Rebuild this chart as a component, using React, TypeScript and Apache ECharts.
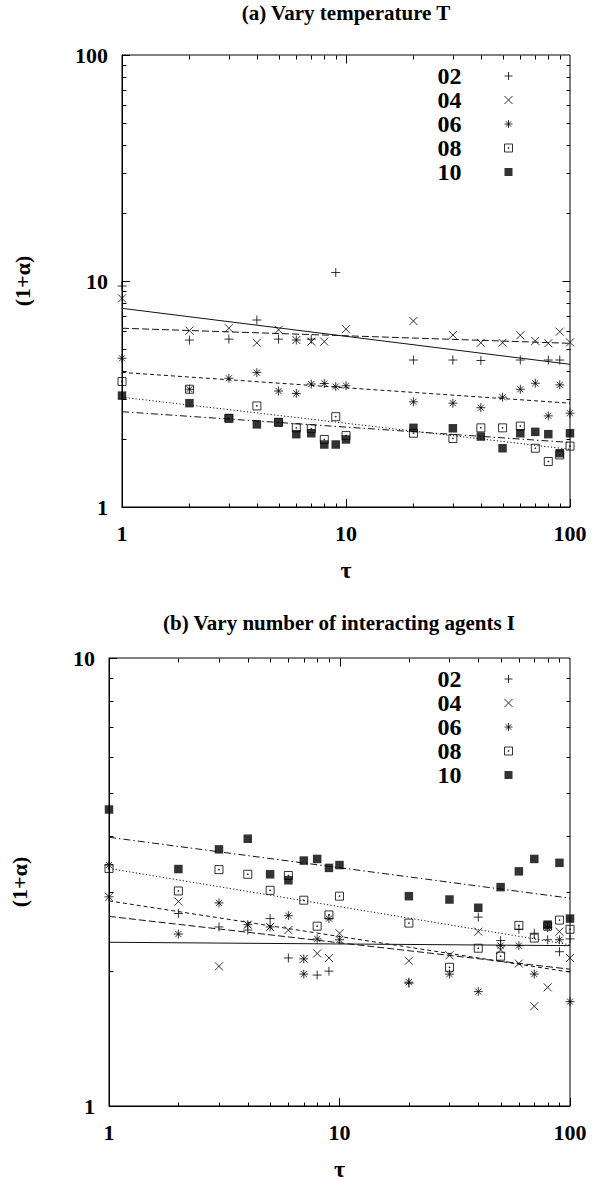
import React, { useEffect, useRef } from 'react';
import * as echarts from 'echarts';

// ---------- data ----------
const TAU = [1, 2, 3, 4, 5, 6, 7, 8, 9, 10, 20, 30, 40, 50, 60, 70, 80, 90, 100];
const NAMES = ['02', '04', '06', '08', '10'];

// panel (a): vary temperature T
const A02 = [9.5, 5.48, 5.53, 6.72, 5.53, 5.48, 5.53, null, 10.9, null, 4.47, 4.47, 4.45, null, 4.47, null, 4.47, 4.47, null];
const A04 = [8.38, 6.03, 6.18, 5.33, 6.08, 5.48, 5.39, 5.39, null, 6.12, 6.65, 5.77, 5.33, 5.33, 5.75, 5.43, 5.3, 5.97, 5.35];
const A06 = [4.55, 3.32, 3.71, 3.93, 3.26, 3.18, 3.5, 3.52, 3.41, 3.44, 2.92, 2.88, 2.75, 3.06, 3.32, 3.53, 2.53, 3.47, 2.6];
const A08 = [3.59, 3.32, 2.47, 2.8, 2.37, 2.24, 2.22, 1.99, 2.51, 2.07, 2.12, 2.01, 2.24, 2.24, 2.28, 1.82, 1.59, 1.7, 1.86];
const A10 = [3.11, 2.88, 2.47, 2.32, 2.37, 2.1, 2.12, 1.89, 1.89, 1.99, 2.24, 2.23, 2.05, 1.82, 2.12, 2.15, 2.1, 1.73, 2.12];
// fitted power laws (value at tau=1, value at tau=100)
const FIT_A02 = [7.57, 4.28];
const FIT_A04 = [6.18, 5.3];
const FIT_A06 = [3.94, 2.88];
const FIT_A08 = [3.06, 1.8];
const FIT_A10 = [2.64, 1.93];

// panel (b): vary number of interacting agents I
const B02 = [2.93, 2.69, 2.51, 2.47, 2.62, 2.14, 2.13, 1.96, 2.0, null, 1.88, null, 2.64, 2.34, 2.48, 2.43, 2.35, 2.21, 2.36];
const B04 = [2.93, 2.86, 2.05, 2.54, 2.51, 2.47, 2.13, 2.19, 2.14, 2.43, 2.11, 2.17, 2.45, 2.23, 2.08, 1.67, 1.84, 2.45, 2.14];
const B06 = [3.45, 2.42, 2.84, 2.54, 2.51, 2.66, 1.97, 2.36, 2.62, 2.35, 1.89, 1.97, 1.8, 2.28, 2.28, 1.97, 2.5, 2.35, 1.71];
const B08 = [3.39, 3.02, 3.37, 3.29, 3.03, 3.27, 2.88, 2.52, 2.67, 2.94, 2.56, 2.04, 2.25, 2.16, 2.53, 2.37, 2.52, 2.6, 2.48];
const B10 = [4.59, 3.38, 3.74, 3.95, 3.29, 3.19, 3.53, 3.56, 3.4, 3.45, 2.94, 2.89, 2.77, 3.08, 3.34, 3.56, 2.54, 3.49, 2.62];
const FIT_B02 = [2.32, 2.28];
const FIT_B04 = [2.65, 2.02];
const FIT_B06 = [2.87, 1.99];
const FIT_B08 = [3.39, 2.29];
const FIT_B10 = [3.98, 2.91];

// axis ranges & minor tick values
const X_RANGE = [1, 100];
const Y_RANGE_A = [1, 100];
const Y_RANGE_B = [1, 10];
const MINOR_2DEC = [2, 3, 4, 5, 6, 7, 8, 9, 20, 30, 40, 50, 60, 70, 80, 90];
const MINOR_1DEC = [2, 3, 4, 5, 6, 7, 8, 9];

const FONT = "'Liberation Serif', 'DejaVu Serif', serif";

const SYM: Record<string, { symbol: string; size: number; filled: boolean }> = {
  '02': { symbol: 'path://M0,5L10,5M5,0L5,10', size: 9, filled: false },
  '04': { symbol: 'path://M0,0L10,10M10,0L0,10', size: 8, filled: false },
  '06': { symbol: 'path://M0,5L10,5M5,0L5,10M1.6,1.6L8.4,8.4M8.4,1.6L1.6,8.4', size: 9, filled: false },
  '08': { symbol: 'path://M0,0L10,0L10,10L0,10ZM4.5,4.5L5.5,4.5L5.5,5.5L4.5,5.5Z', size: 8, filled: false },
  '10': { symbol: 'rect', size: 8.5, filled: true },
};
const DASH: Record<string, any> = {
  '02': 'solid',
  '04': [7, 3],
  '06': [4, 3],
  '08': [1.2, 2.2],
  '10': [7, 3, 1.5, 3],
};

function pairs(vals: (number | null)[]) {
  return TAU.map((t, i) => (vals[i] == null ? null : [t, vals[i]])).filter(Boolean) as number[][];
}

function scatter(name: string, vals: (number | null)[], gi: number) {
  const s = SYM[name];
  return {
    type: 'scatter',
    name,
    xAxisIndex: gi,
    yAxisIndex: gi,
    symbol: s.symbol,
    symbolSize: s.size,
    itemStyle: s.filled
      ? { color: '#000', borderWidth: 0 }
      : { color: 'none', borderColor: '#000', borderWidth: 1 },
    data: pairs(vals),
    z: 3,
  };
}

function fit(name: string, ends: number[], gi: number) {
  return {
    type: 'line',
    name: 'fit' + gi + '-' + name,
    xAxisIndex: gi,
    yAxisIndex: gi,
    symbol: 'none',
    lineStyle: { color: '#111', width: 1, type: DASH[name] },
    data: [
      [X_RANGE[0], ends[0]],
      [X_RANGE[1], ends[1]],
    ],
    z: 2,
  };
}

function ticks(gi: number, yRange: number[], yMinor: number[], xMajorTop: number[], yMajorRight: number[]) {
  const data: number[][] = [];
  MINOR_2DEC.forEach((v) => data.push([v, yRange[0], 0, 4]));
  yMinor.forEach((v) => data.push([X_RANGE[0], v, 1, 4]));
  xMajorTop.forEach((v) => data.push([v, yRange[0], 2, 8]));
  yMajorRight.forEach((v) => data.push([X_RANGE[0], v, 3, 8]));
  return {
    type: 'custom',
    xAxisIndex: gi,
    yAxisIndex: gi,
    silent: true,
    clip: false,
    dimensions: ['x', 'y', 'kind', 'len'],
    encode: { x: 0, y: 1 },
    data,
    z: 4,
    renderItem: (params: any, api: any) => {
      const cs = params.coordSys;
      const kind = api.value(2);
      const len = api.value(3);
      const p = api.coord([api.value(0), api.value(1)]);
      const px = Math.round(p[0]) + 0.5;
      const py = Math.round(p[1]) + 0.5;
      const top = Math.round(cs.y) + 0.5;
      const bot = Math.round(cs.y + cs.height) + 0.5;
      const left = Math.round(cs.x) + 0.5;
      const right = Math.round(cs.x + cs.width) + 0.5;
      const style = { stroke: '#000', lineWidth: 1 };
      const L = (x1: number, y1: number, x2: number, y2: number) => ({
        type: 'line',
        shape: { x1, y1, x2, y2 },
        style,
      });
      let children: any[] = [];
      if (kind === 0) children = [L(px, bot, px, bot - len), L(px, top, px, top + len)];
      else if (kind === 1) children = [L(left, py, left + len, py), L(right, py, right - len, py)];
      else if (kind === 2) children = [L(px, top, px, top + len)];
      else children = [L(right, py, right - len, py)];
      return { type: 'group', children };
    },
  };
}

function xAxis(gi: number) {
  return {
    type: 'log',
    logBase: 10,
    gridIndex: gi,
    min: X_RANGE[0],
    max: X_RANGE[1],
    axisLine: { lineStyle: { color: '#000', width: 1 } },
    axisTick: { inside: true, length: 8, lineStyle: { color: '#000', width: 1 } },
    splitLine: { show: false },
    axisLabel: { fontFamily: FONT, fontSize: 22, fontWeight: 'bold', color: '#000', margin: 15 },
    name: 'τ',
    nameLocation: 'middle',
    nameGap: 51,
    nameTextStyle: { fontFamily: FONT, fontSize: 24, fontWeight: 'bold', color: '#000' },
  };
}

function yAxis(gi: number, range: number[], nameGap: number) {
  return {
    type: 'log',
    logBase: 10,
    gridIndex: gi,
    min: range[0],
    max: range[1],
    axisLine: { lineStyle: { color: '#000', width: 1 } },
    axisTick: { inside: true, length: 8, lineStyle: { color: '#000', width: 1 } },
    splitLine: { show: false },
    axisLabel: {
      fontFamily: FONT,
      fontSize: 22,
      fontWeight: 'bold',
      color: '#000',
      margin: 14,
      padding: [6, 0, 0, 0],
    },
    name: '(1+α)',
    nameLocation: 'middle',
    nameRotate: 90,
    nameGap,
    nameTextStyle: { fontFamily: FONT, fontSize: 22, fontWeight: 'bold', color: '#000' },
  };
}

function legend(top: number) {
  return {
    data: NAMES,
    orient: 'vertical',
    align: 'right',
    right: 88,
    top,
    padding: 0,
    itemGap: 0,
    itemWidth: 8,
    itemHeight: 8,
    selectedMode: false,
    itemStyle: { borderWidth: 1 },
    textStyle: {
      fontFamily: FONT,
      fontSize: 24,
      fontWeight: 'bold',
      color: '#000',
      lineHeight: 24,
      padding: [0, 38, 0, 0],
    },
  };
}

export default function App() {
  const ref = useRef<HTMLDivElement>(null);
  useEffect(() => {
    if (!ref.current) return;
    const chart = echarts.init(ref.current, undefined, { renderer: 'svg' });
    const option: any = {
      animation: false,
      backgroundColor: '#fff',
      title: [
        {
          text: '(a) Vary temperature T',
          left: 346,
          top: 2,
          padding: 0,
          textAlign: 'center',
          textStyle: { fontFamily: FONT, fontSize: 21, fontWeight: 'bold', color: '#000' },
        },
        {
          text: '(b) Vary number of interacting agents I',
          left: 339,
          top: 612,
          padding: 0,
          textAlign: 'center',
          textStyle: { fontFamily: FONT, fontSize: 21, fontWeight: 'bold', color: '#000' },
        },
      ],
      legend: [legend(64), legend(667)],
      grid: [
        { left: 122, right: 33, top: 55, height: 452, show: true, borderColor: '#000', borderWidth: 1, backgroundColor: 'transparent' },
        { left: 107, right: 33, top: 658, height: 452, show: true, borderColor: '#000', borderWidth: 1, backgroundColor: 'transparent' },
      ],
      xAxis: [xAxis(0), xAxis(1)],
      yAxis: [yAxis(0, Y_RANGE_A, 89), yAxis(1, Y_RANGE_B, 79)],
      series: [
        scatter('02', A02, 0),
        scatter('04', A04, 0),
        scatter('06', A06, 0),
        scatter('08', A08, 0),
        scatter('10', A10, 0),
        fit('02', FIT_A02, 0),
        fit('04', FIT_A04, 0),
        fit('06', FIT_A06, 0),
        fit('08', FIT_A08, 0),
        fit('10', FIT_A10, 0),
        ticks(0, Y_RANGE_A, MINOR_2DEC, [10], [10]),
        scatter('02', B02, 1),
        scatter('04', B04, 1),
        scatter('06', B06, 1),
        scatter('08', B08, 1),
        scatter('10', B10, 1),
        fit('02', FIT_B02, 1),
        fit('04', FIT_B04, 1),
        fit('06', FIT_B06, 1),
        fit('08', FIT_B08, 1),
        fit('10', FIT_B10, 1),
        ticks(1, Y_RANGE_B, MINOR_1DEC, [10], []),
      ],
    };
    chart.setOption(option);
    return () => chart.dispose();
  }, []);
  return (
    <div
      ref={ref}
      style={{ position: 'absolute', left: 0, top: 0, width: 603, height: 1182, background: '#fff' }}
    />
  );
}
